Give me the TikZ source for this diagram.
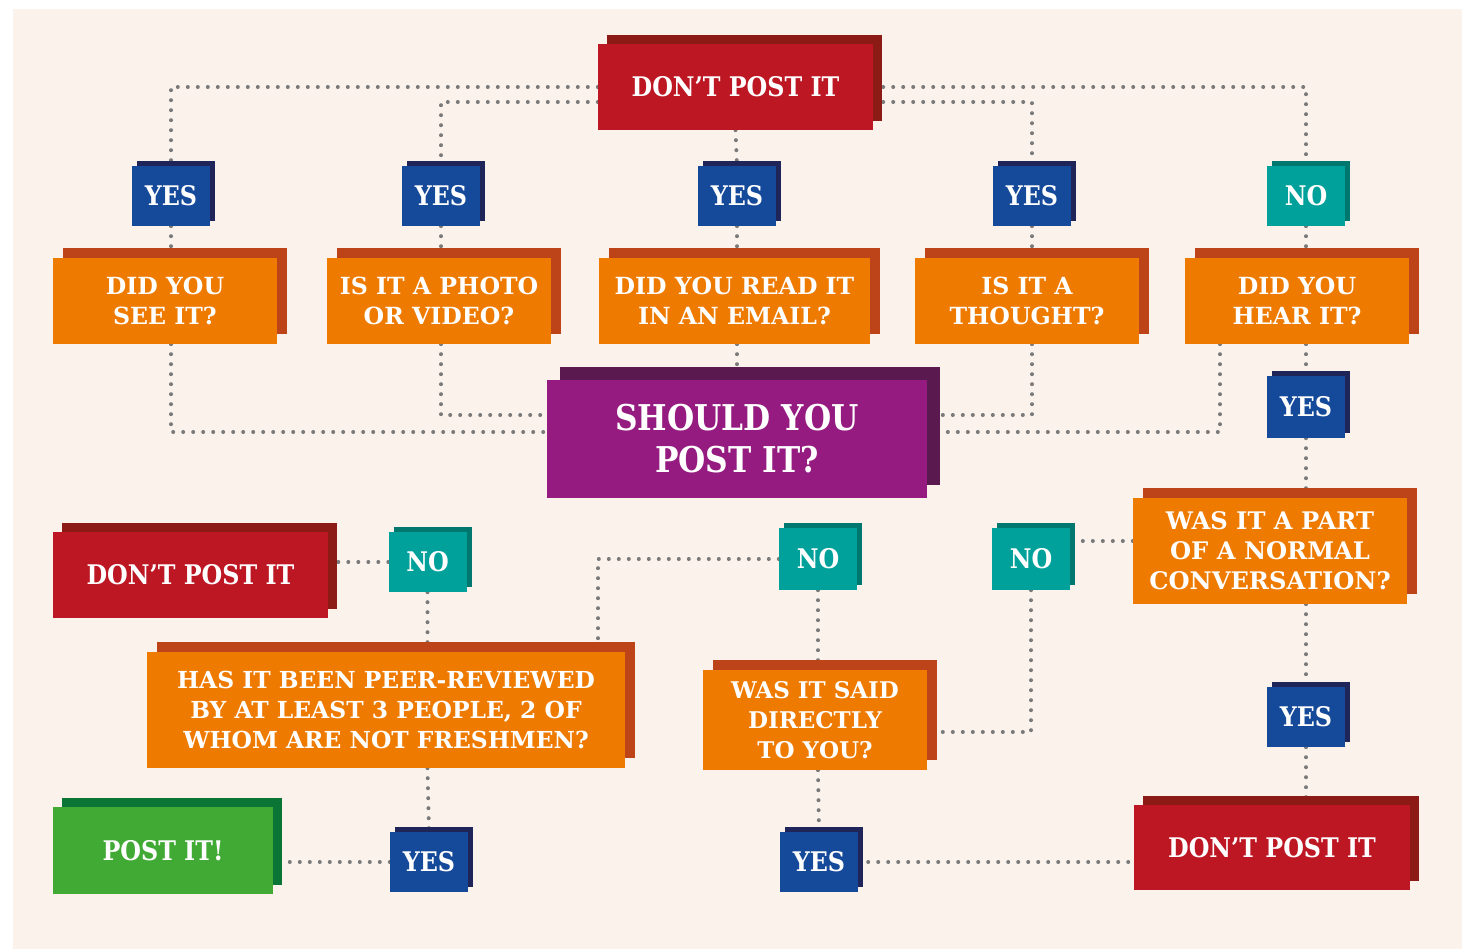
\documentclass[tikz,border=0pt]{standalone}
\usepackage{fontspec}
\newfontfamily\slab{DejaVu Serif}[FakeStretch=0.88]
\newfontfamily\slabwide{DejaVu Serif}
\usetikzlibrary{shadows,backgrounds}
\definecolor{cream}{HTML}{FBF2EB}
\definecolor{dotgrey}{HTML}{7A7A7A}
\definecolor{stopred}{HTML}{BE1724}
\definecolor{stopshade}{HTML}{8C1A15}
\definecolor{qorange}{HTML}{EE7A00}
\definecolor{qshade}{HTML}{BC4418}
\definecolor{purple}{HTML}{951B80}
\definecolor{purpleshade}{HTML}{5B1A4F}
\definecolor{yesblue}{HTML}{15499A}
\definecolor{yesshade}{HTML}{1F2459}
\definecolor{noteal}{HTML}{00A19A}
\definecolor{noshade}{HTML}{00786F}
\definecolor{okgreen}{HTML}{40AA35}
\definecolor{okshade}{HTML}{0B7535}
\begin{document}
\begin{tikzpicture}[x=1pt,y=-1pt,
  box/.style n args={3}{inner sep=0pt,text=white,align=center,fill=#1,
    drop shadow={shadow xshift=#3,shadow yshift=#3,opacity=1,fill=#2}},
  small/.style={minimum width=78pt,minimum height=60pt,font=\slab\bfseries\fontsize{27}{30}\selectfont},
  yesbox/.style={small,box={yesblue}{yesshade}{5pt}},
  nobox/.style={small,box={noteal}{noshade}{5pt}},
  stopbox/.style={box={stopred}{stopshade}{9pt},minimum width=275pt,minimum height=86pt,
    font=\slab\bfseries\fontsize{27}{30}\selectfont},
  askbox/.style={box={qorange}{qshade}{10pt},minimum width=224pt,minimum height=86pt,
    font=\slabwide\bfseries\fontsize{23.6}{30}\selectfont},
  link/.style={draw=dotgrey,line width=4pt,line cap=round,dash pattern=on 0pt off 10pt}]
\useasboundingbox (0,0) rectangle (1472,949);
\node[stopbox] (top) at (735.5,87) {DON’T POST IT};
\node[yesbox] (yes1) at (171,196) {YES};
\node[yesbox] (yes2) at (441,196) {YES};
\node[yesbox] (yes3) at (737,196) {YES};
\node[yesbox] (yes4) at (1032,196) {YES};
\node[nobox] (no1) at (1306,196) {NO};
\node[askbox] (q1) at (165,301) {DID YOU\\SEE IT?};
\node[askbox] (q2) at (439,301) {IS IT A PHOTO\\OR VIDEO?};
\node[askbox,minimum width=271pt] (q3) at (734.5,301) {DID YOU READ IT\\IN AN EMAIL?};
\node[askbox] (q4) at (1027,301) {IS IT A\\THOUGHT?};
\node[askbox] (q5) at (1297,301) {DID YOU\\HEAR IT?};
\node[box={purple}{purpleshade}{13pt},minimum width=380pt,minimum height=118pt,
  font=\slab\bfseries\fontsize{35.5}{42}\selectfont] (should) at (737,439) {SHOULD YOU\\POST IT?};
\node[yesbox,minimum height=62pt] (yesr1) at (1306,407) {YES};
\node[askbox,minimum width=274pt,minimum height=106pt,
  font=\slabwide\bfseries\fontsize{24.2}{30}\selectfont] (conv) at (1270,551) {WAS IT A PART\\OF A NORMAL\\CONVERSATION?};
\node[nobox,minimum height=62pt] (nor) at (1031,559) {NO};
\node[nobox,minimum height=62pt] (nom) at (818,559) {NO};
\node[nobox] (nol) at (427.5,562) {NO};
\node[stopbox] (stopl) at (190.5,575) {DON’T POST IT};
\node[askbox,minimum width=478pt,minimum height=116pt,
  font=\slabwide\bfseries\fontsize{23.4}{30}\selectfont] (peer) at (386,710) {HAS IT BEEN PEER-REVIEWED\\BY AT LEAST 3 PEOPLE, 2 OF\\WHOM ARE NOT FRESHMEN?};
\node[askbox,minimum height=100pt,
  font=\slabwide\bfseries\fontsize{23}{30}\selectfont] (said) at (815,720) {WAS IT SAID\\DIRECTLY\\TO YOU?};
\node[yesbox] (yesr2) at (1306,717) {YES};
\node[stopbox,minimum width=276pt,minimum height=85pt] (stopbr) at (1272,847.5) {DON’T POST IT};
\node[box={okgreen}{okshade}{9pt},minimum width=220pt,minimum height=87pt,
  font=\slab\bfseries\fontsize{27}{30}\selectfont] (postit) at (163,850.5) {POST IT!};
\node[yesbox] (yesbl) at (429,862) {YES};
\node[yesbox] (yesbm) at (819,862) {YES};
\begin{scope}[on background layer]
\fill[cream] (13,9) rectangle (1462,949);
\draw[link] (top.west) -| (yes1.north);
\draw[link] ([yshift=-15pt]top.west) -| (yes2.north);
\draw[link] (top.south) -- (yes3.north);
\draw[link] ([yshift=-15pt]top.east) -| (yes4.north);
\draw[link] (top.east) -| (no1.north);
\draw[link] (yes1.south) -- (yes1.south |- q1.north);
\draw[link] (yes2.south) -- (yes2.south |- q2.north);
\draw[link] (yes3.south) -- (yes3.south |- q3.north);
\draw[link] (yes4.south) -- (yes4.south |- q4.north);
\draw[link] (no1.south) -- (no1.south |- q5.north);
\draw[link] (q1.south -| yes1) |- ([yshift=7pt]should.west);
\draw[link] (q2.south -| yes2) |- ([yshift=24pt]should.west);
\draw[link] (q3.south -| yes3) -- (yes3 |- should.north);
\draw[link] (q4.south -| yes4) |- ([yshift=24pt]should.east);
\draw[link] ([xshift=-77pt]q5.south) |- ([yshift=7pt]should.east);
\draw[link] (q5.south -| no1) -- (yesr1.north);
\draw[link] (yesr1.south) -- (yesr1.south |- conv.north);
\draw[link] ([yshift=10pt]conv.west) -- ([yshift=10pt]conv.west -| nor.east);
\draw[link] (nor.south) |- ([yshift=-12pt]said.east);
\draw[link] (nom.south) -- (nom.south |- said.north);
\draw[link] (nom.west) -| ([xshift=212pt]peer.north);
\draw[link] (nol.south) -- (nol.south |- peer.north);
\draw[link] (nol.west) -- (nol.west -| stopl.east);
\draw[link] (peer.south -| nol) -- (yesbl.north);
\draw[link] (yesbl.west) -- (yesbl.west -| postit.east);
\draw[link] (said.south -| nom) -- (yesbm.north);
\draw[link] (yesbm.east) -- (yesbm.east -| stopbr.west);
\draw[link] (conv.south -| yesr1) -- (yesr2.north);
\draw[link] (yesr2.south) -- (yesr2.south |- stopbr.north);
\end{scope}
\end{tikzpicture}
\end{document}
